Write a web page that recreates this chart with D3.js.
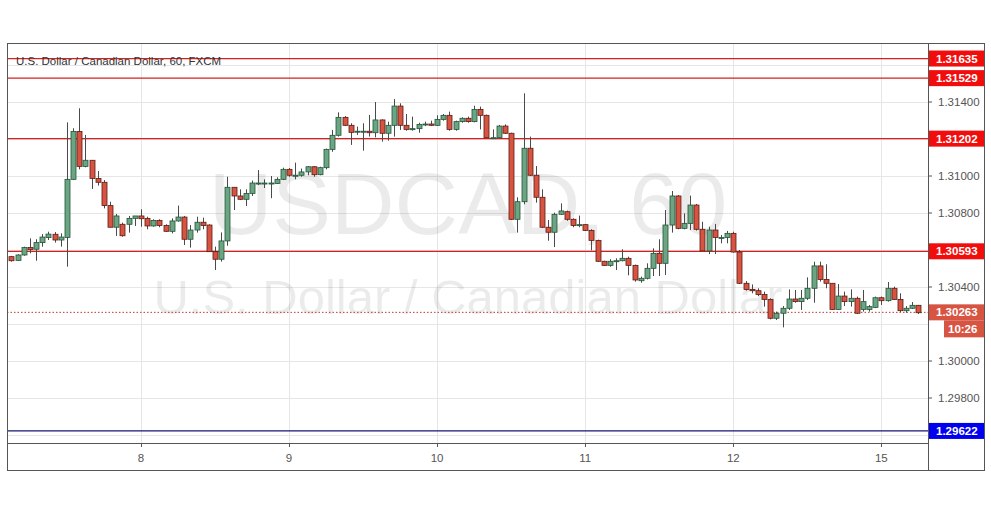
<!DOCTYPE html>
<html>
<head>
<meta charset="utf-8">
<script src="https://cdn.jsdelivr.net/npm/d3@7"></script>
<style>
  body { margin: 0; background: #fff; }
  svg { font-family: "Liberation Sans", Arial, sans-serif; }
</style>
</head>
<body>
<svg id="chart" width="991" height="507"></svg>
<script>
// hourly candles, USDCAD 60
const opens = [1.30564,1.30544,1.30573,1.30614,1.30604,1.30640,1.30667,1.30685,1.30654,1.30668,
  1.30982,1.31241,1.31052,1.31085,1.30987,1.30966,1.30840,1.30723,1.30739,1.30739,
  1.30771,1.30784,1.30771,1.30730,1.30760,1.30733,1.30701,1.30757,1.30778,1.30658,
  1.30708,1.30750,1.30735,1.30591,1.30550,1.30649,1.30939,1.30892,1.30874,1.30906,
  1.30958,1.30960,1.30960,1.30960,1.30982,1.31036,1.31004,1.31004,1.31022,1.31050,
  1.31007,1.31045,1.31144,1.31220,1.31317,1.31274,1.31240,1.31242,1.31242,1.31234,
  1.31303,1.31231,1.31274,1.31378,1.31274,1.31256,1.31256,1.31281,1.31281,1.31274,
  1.31306,1.31328,1.31252,1.31294,1.31312,1.31294,1.31360,1.31328,1.31207,1.31207,
  1.31270,1.31231,1.30766,1.30861,1.31150,1.31004,1.30885,1.30723,1.30696,1.30793,
  1.30807,1.30766,1.30735,1.30737,1.30706,1.30652,1.30539,1.30517,1.30540,1.30542,
  1.30555,1.30517,1.30434,1.30447,1.30501,1.30582,1.30528,1.30735,1.30892,1.30717,
  1.30744,1.30843,1.30712,1.30595,1.30708,1.30668,1.30668,1.30690,1.30589,1.30420,
  1.30387,1.30380,1.30359,1.30333,1.30231,1.30258,1.30285,1.30335,1.30321,1.30339,
  1.30393,1.30514,1.30441,1.30420,1.30279,1.30351,1.30321,1.30339,1.30279,1.30279,
  1.30290,1.30342,1.30326,1.30393,1.30333,1.30272,1.30285,1.30301];
const closes = [1.30542,1.30573,1.30613,1.30602,1.30640,1.30670,1.30686,1.30654,1.30670,1.30982,
  1.31241,1.31052,1.31085,1.30987,1.30966,1.30840,1.30723,1.30784,1.30677,1.30771,
  1.30784,1.30769,1.30730,1.30760,1.30733,1.30701,1.30757,1.30778,1.30658,1.30708,
  1.30750,1.30732,1.30591,1.30550,1.30649,1.30939,1.30892,1.30874,1.30906,1.30962,
  1.30962,1.30962,1.30962,1.30982,1.31036,1.31004,1.31004,1.31022,1.31050,1.31007,
  1.31045,1.31144,1.31220,1.31317,1.31274,1.31236,1.31242,1.31242,1.31234,1.31303,
  1.31231,1.31274,1.31378,1.31274,1.31252,1.31256,1.31279,1.31281,1.31274,1.31306,
  1.31328,1.31252,1.31294,1.31312,1.31294,1.31360,1.31328,1.31207,1.31207,1.31270,
  1.31231,1.30766,1.30861,1.31150,1.31004,1.30885,1.30723,1.30696,1.30793,1.30811,
  1.30766,1.30733,1.30737,1.30706,1.30652,1.30539,1.30517,1.30539,1.30542,1.30555,
  1.30517,1.30438,1.30447,1.30501,1.30582,1.30528,1.30735,1.30892,1.30717,1.30744,
  1.30843,1.30712,1.30595,1.30708,1.30668,1.30668,1.30690,1.30589,1.30420,1.30387,
  1.30380,1.30359,1.30333,1.30231,1.30258,1.30285,1.30335,1.30321,1.30339,1.30393,
  1.30514,1.30441,1.30420,1.30279,1.30351,1.30321,1.30339,1.30258,1.30321,1.30294,
  1.30342,1.30326,1.30393,1.30333,1.30272,1.30285,1.30301,1.30261];
const highs = [1.30568,1.30577,1.30618,1.30663,1.30658,1.30686,1.30699,1.30697,1.30690,1.31290,
  1.31258,1.31366,1.31222,1.31085,1.31027,1.30978,1.30861,1.30795,1.30748,1.30784,
  1.30784,1.30820,1.30780,1.30766,1.30766,1.30739,1.30771,1.30840,1.30784,1.30735,
  1.30780,1.30775,1.30739,1.30618,1.30695,1.30996,1.30939,1.30928,1.30928,1.30975,
  1.31032,1.30982,1.31000,1.30993,1.31045,1.31043,1.31072,1.31040,1.31054,1.31054,
  1.31050,1.31148,1.31249,1.31344,1.31324,1.31285,1.31267,1.31285,1.31330,1.31400,
  1.31306,1.31294,1.31416,1.31393,1.31335,1.31321,1.31288,1.31294,1.31299,1.31328,
  1.31335,1.31348,1.31299,1.31317,1.31321,1.31380,1.31375,1.31332,1.31252,1.31276,
  1.31279,1.31234,1.30885,1.31447,1.31213,1.31054,1.30928,1.30762,1.30802,1.30852,
  1.30813,1.30771,1.30786,1.30741,1.30712,1.30656,1.30542,1.30550,1.30555,1.30604,
  1.30564,1.30521,1.30456,1.30528,1.30609,1.30658,1.30816,1.30919,1.30897,1.30798,
  1.30894,1.30849,1.30753,1.30726,1.30741,1.30681,1.30703,1.30699,1.30600,1.30432,
  1.30414,1.30393,1.30375,1.30339,1.30267,1.30297,1.30387,1.30384,1.30384,1.30452,
  1.30537,1.30537,1.30523,1.30420,1.30416,1.30375,1.30387,1.30348,1.30384,1.30303,
  1.30348,1.30348,1.30427,1.30402,1.30366,1.30297,1.30319,1.30303];
const lows = [1.30537,1.30542,1.30569,1.30582,1.30542,1.30618,1.30654,1.30640,1.30618,1.30510,
  1.30978,1.31036,1.31047,1.30930,1.30948,1.30825,1.30723,1.30676,1.30672,1.30694,
  1.30730,1.30726,1.30712,1.30726,1.30723,1.30697,1.30690,1.30753,1.30627,1.30613,
  1.30694,1.30712,1.30591,1.30492,1.30537,1.30623,1.30816,1.30870,1.30838,1.30892,
  1.30951,1.30935,1.30880,1.30958,1.30978,1.30996,1.30982,1.30996,1.31004,1.30996,
  1.31004,1.31036,1.31131,1.31213,1.31270,1.31168,1.31222,1.31137,1.31213,1.31209,
  1.31186,1.31191,1.31213,1.31249,1.31245,1.31245,1.31234,1.31270,1.31270,1.31270,
  1.31299,1.31245,1.31245,1.31288,1.31288,1.31290,1.31252,1.31204,1.31204,1.31204,
  1.31227,1.30762,1.30694,1.30847,1.31000,1.30856,1.30719,1.30650,1.30616,1.30789,
  1.30758,1.30723,1.30723,1.30703,1.30598,1.30535,1.30514,1.30510,1.30492,1.30539,
  1.30463,1.30429,1.30423,1.30441,1.30459,1.30459,1.30465,1.30694,1.30712,1.30712,
  1.30708,1.30705,1.30595,1.30578,1.30578,1.30636,1.30636,1.30586,1.30416,1.30380,
  1.30366,1.30351,1.30294,1.30225,1.30222,1.30182,1.30276,1.30315,1.30276,1.30330,
  1.30315,1.30429,1.30393,1.30276,1.30276,1.30297,1.30294,1.30254,1.30267,1.30267,
  1.30286,1.30303,1.30321,1.30330,1.30265,1.30261,1.30281,1.30254];

const dayLabels = ["8", "9", "10", "11", "12", "15"];
const dayIndex = [21, 45, 69, 93, 117, 141];
const priceTicks = [1.29800, 1.30000, 1.30400, 1.30800, 1.31000, 1.31400];
const gridTicks = [1.29600, 1.29800, 1.30000, 1.30200, 1.30400, 1.30600, 1.30800, 1.31000, 1.31200, 1.31400, 1.31600];
const redLevels = [1.31635, 1.31529, 1.31202, 1.30593];
const blueLevel = 1.29622;
const lastPrice = 1.30263;
const countdown = "10:26";

const candles = opens.map((o, i) => ({ i, o, c: closes[i], h: highs[i], l: lows[i] }));

const svg = d3.select("#chart");
const pL = 7, pR = 928, pT = 43, pB = 443, outerR = 984, outerB = 470;

const x = d3.scaleLinear().domain([0, 141]).range([11.4, 11.4 + 141 * 6.17]);
const y = d3.scaleLinear().domain([1.30000, 1.31400]).range([361, 102]);

svg.append("defs").append("clipPath").attr("id", "plot")
  .append("rect").attr("x", pL).attr("y", pT).attr("width", pR - pL).attr("height", pB - pT);

const plot = svg.append("g").attr("clip-path", "url(#plot)");

// grid
plot.append("g").selectAll("line").data(gridTicks).join("line")
  .attr("x1", pL).attr("x2", pR)
  .attr("y1", d => Math.round(y(d)) + 0.5).attr("y2", d => Math.round(y(d)) + 0.5)
  .attr("stroke", "#e6e6e6");
plot.append("g").selectAll("line").data(dayIndex).join("line")
  .attr("x1", d => Math.round(x(d)) + 0.5).attr("x2", d => Math.round(x(d)) + 0.5)
  .attr("y1", pT).attr("y2", pB)
  .attr("stroke", "#e6e6e6");

// watermark
plot.append("text").attr("x", 468).attr("y", 234)
  .attr("text-anchor", "middle").attr("font-size", 88).attr("fill", "#000").attr("fill-opacity", 0.08)
  .text("USDCAD, 60");
plot.append("text").attr("x", 468).attr("y", 314)
  .attr("text-anchor", "middle").attr("font-size", 49).attr("fill", "#000").attr("fill-opacity", 0.08)
  .text("U.S. Dollar / Canadian Dollar");

// level lines
plot.append("g").selectAll("line").data(redLevels).join("line")
  .attr("x1", pL).attr("x2", pR)
  .attr("y1", d => y(d)).attr("y2", d => y(d))
  .attr("stroke", "#d61f1f").attr("stroke-width", 1.3);
plot.append("line").attr("x1", pL).attr("x2", pR)
  .attr("y1", y(blueLevel)).attr("y2", y(blueLevel))
  .attr("stroke", "#16166e").attr("stroke-width", 1.3);
plot.append("line").attr("x1", pL).attr("x2", pR)
  .attr("y1", y(lastPrice)).attr("y2", y(lastPrice))
  .attr("stroke", "#c0392b").attr("stroke-dasharray", "1.5,2");

// candles
const up = "#6ba583", upEdge = "#225437", dn = "#d75442", dnEdge = "#5b1a13";
const cg = plot.append("g");
cg.selectAll("line").data(candles).join("line")
  .attr("x1", d => Math.round(x(d.i)) + 0.5).attr("x2", d => Math.round(x(d.i)) + 0.5)
  .attr("y1", d => y(d.h)).attr("y2", d => y(d.l))
  .attr("stroke", "#4a4a4a");
cg.selectAll("rect").data(candles).join("rect")
  .attr("x", d => Math.round(x(d.i)) - 2)
  .attr("width", 5)
  .attr("y", d => y(Math.max(d.o, d.c)))
  .attr("height", d => Math.max(1, Math.abs(y(d.o) - y(d.c))))
  .attr("fill", d => d.c >= d.o ? up : dn)
  .attr("stroke", d => d.c >= d.o ? upEdge : dnEdge)
  .attr("stroke-width", 0.8);

// title
svg.append("text").attr("x", 16).attr("y", 65).attr("font-size", 11.5).attr("fill", "#333")
  .text("U.S. Dollar / Canadian Dollar, 60, FXCM");

// frame
svg.append("rect").attr("x", pL + 0.5).attr("y", pT + 0.5)
  .attr("width", outerR - pL).attr("height", outerB - pT)
  .attr("fill", "none").attr("stroke", "#555");
svg.append("line").attr("x1", pR + 0.5).attr("x2", pR + 0.5).attr("y1", pT).attr("y2", outerB)
  .attr("stroke", "#555");
svg.append("line").attr("x1", pL).attr("x2", pR).attr("y1", pB + 0.5).attr("y2", pB + 0.5)
  .attr("stroke", "#555");

// price axis
const pa = svg.append("g");
pa.selectAll("line").data(priceTicks).join("line")
  .attr("x1", pR).attr("x2", pR + 4)
  .attr("y1", d => y(d)).attr("y2", d => y(d)).attr("stroke", "#555");
pa.selectAll("text").data(priceTicks).join("text")
  .attr("x", 938).attr("y", d => y(d) + 4).attr("font-size", 11.5).attr("fill", "#555")
  .text(d => d.toFixed(5));

function tag(v, fill, yy) {
  const g = svg.append("g");
  g.append("rect").attr("x", pR + 1).attr("y", yy - 8).attr("width", outerR - pR - 1).attr("height", 16)
    .attr("fill", fill);
  g.append("text").attr("x", 936).attr("y", yy + 4).attr("font-size", 11.5).attr("font-weight", "bold")
    .attr("fill", "#fff").text(v.toFixed(5));
}
redLevels.forEach(v => tag(v, "#f20d0d", y(v)));
tag(blueLevel, "#0000ee", y(blueLevel));
tag(lastPrice, "#d75442", y(lastPrice));
svg.append("rect").attr("x", 944).attr("y", y(lastPrice) + 8).attr("width", 40).attr("height", 17)
  .attr("fill", "#d75442");
svg.append("text").attr("x", 948).attr("y", y(lastPrice) + 21).attr("font-size", 11.5)
  .attr("font-weight", "bold").attr("fill", "#fff").text(countdown);

// time axis
const ta = svg.append("g");
ta.selectAll("line").data(dayIndex).join("line")
  .attr("x1", d => Math.round(x(d)) + 0.5).attr("x2", d => Math.round(x(d)) + 0.5)
  .attr("y1", pB).attr("y2", pB + 4).attr("stroke", "#555");
ta.selectAll("text").data(dayIndex).join("text")
  .attr("x", d => x(d)).attr("y", 462).attr("text-anchor", "middle")
  .attr("font-size", 11.5).attr("fill", "#555")
  .text((d, k) => dayLabels[k]);
</script>
</body>
</html>
